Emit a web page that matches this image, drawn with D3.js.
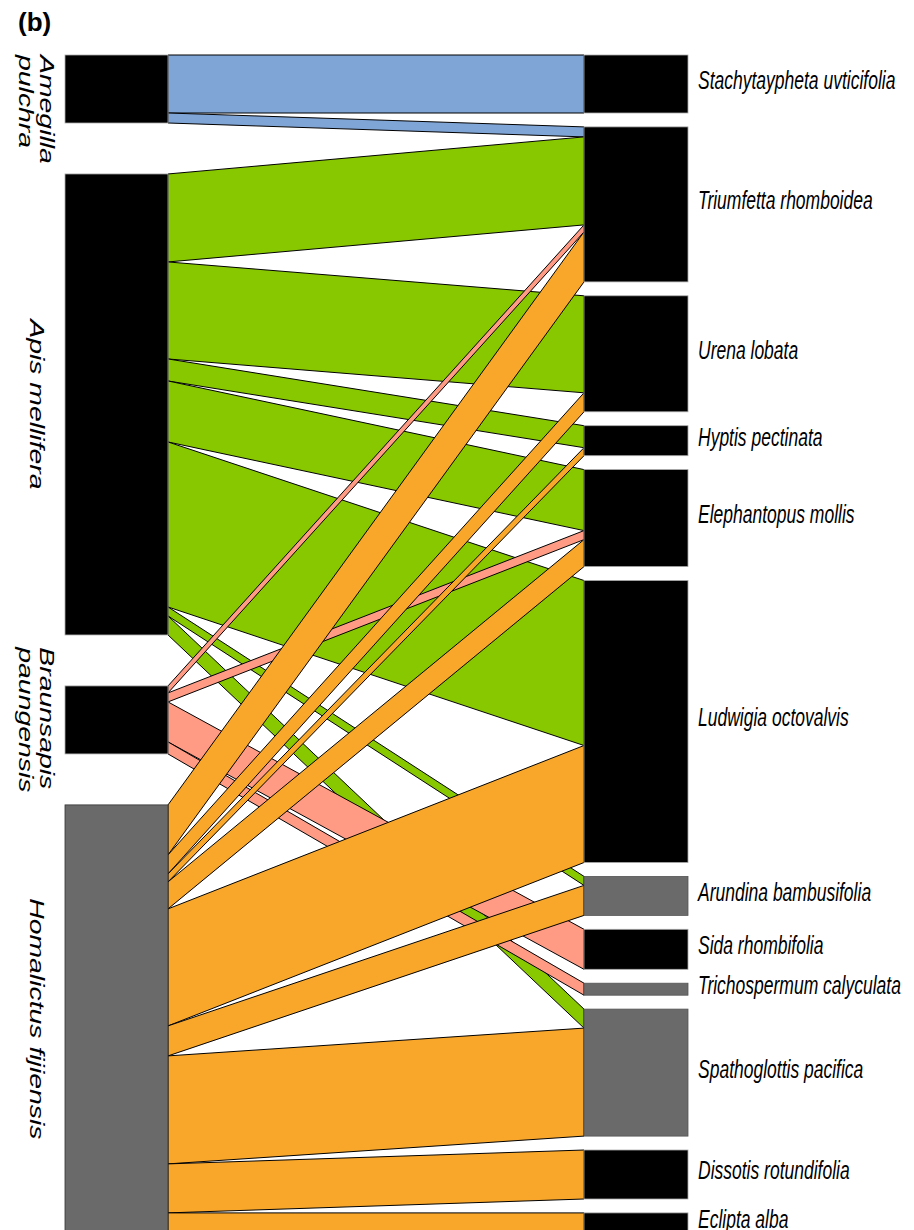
<!DOCTYPE html>
<html>
<head>
<meta charset="utf-8">
<script src="https://cdn.jsdelivr.net/npm/d3@7"></script>
<style>
  html, body { margin: 0; padding: 0; background: #fff; }
  svg { display: block; }
</style>
</head>
<body>
<svg id="web" width="914" height="1230"></svg>
<script>
// Bee species (upper level, left column)
const pollinators = ["Amegilla pulchra", "Apis mellifera", "Braunsapis paungensis", "Homalictus fijiensis"];
const pollinatorLabelLines = [["Amegilla", "pulchra"], ["Apis mellifera"], ["Braunsapis", "paungensis"], ["Homalictus fijiensis"]];

// Plant species (lower level, right column)
const plants = [
  "Stachytaypheta uvticifolia", "Triumfetta rhomboidea", "Urena lobata", "Hyptis pectinata",
  "Elephantopus mollis", "Ludwigia octovalvis", "Arundina bambusifolia", "Sida rhombifolia",
  "Trichospermum calyculata", "Spathoglottis pacifica", "Dissotis rotundifolia", "Eclipta alba"
];

// Interaction counts of each bee with each plant (same order as `plants`)
const visitsAmegilla   = [58, 10,  0,  0,  0,   0,  0,  0,  0,   0,  0,  0];
const visitsApis       = [ 0, 88, 97, 22, 61, 165,  9,  0,  0,  19,  0,  0];
const visitsBraunsapis = [ 0,  7,  0,  0,  9,   0,  0, 40, 12,   0,  0,  0];
const visitsHomalictus = [ 0, 50, 19,  8, 27, 117, 30,  0,  0, 108, 49, 20];

// Styling
const linkColors = ["#7fa5d6", "#88c800", "#ff9b85", "#f9a72b"];
const pollinatorBoxColors = ["#000000", "#000000", "#000000", "#6a6a6a"];
const grayPlants = new Set(["Arundina bambusifolia", "Trichospermum calyculata", "Spathoglottis pacifica"]);

const matrix = [visitsAmegilla, visitsApis, visitsBraunsapis, visitsHomalictus];

const svg = d3.select("#web");

const plotTop = 55;
const gapPlants = 13.9;
const gapBees = gapPlants * (plants.length - 1) / (pollinators.length - 1);
const leftX0 = 65, leftX1 = 168, rightX0 = 584, rightX1 = 688;
const vStretch = 1.42;

const beeTotals = matrix.map(r => d3.sum(r));
const plantTotals = plants.map((_, j) => d3.sum(matrix, r => r[j]));
const grand = d3.sum(beeTotals);

// Units of interactions -> pixels
const unit = d3.scaleLinear().domain([0, grand]).range([0, grand * 1.0]);

// Node positions
const beeY = [];
{
  let acc = 0;
  beeTotals.forEach((t, i) => {
    const y0 = plotTop + unit(acc) + i * gapBees;
    beeY.push({ y0, y1: y0 + unit(t) });
    acc += t;
  });
}
const plantY = [];
{
  let acc = 0;
  plantTotals.forEach((t, j) => {
    const y0 = plotTop + unit(acc) + j * gapPlants;
    plantY.push({ y0, y1: y0 + unit(t) });
    acc += t;
  });
}

// Link geometry: within a bee stacked by plant order, within a plant stacked by bee order
const links = [];
const beeCursor = beeY.map(d => d.y0);
const plantCursor = plantY.map(d => d.y0);
matrix.forEach((row, i) => {
  row.forEach((v, j) => {
    if (!v) return;
    links.push({ i, j, v, l0: beeCursor[i], l1: beeCursor[i] + unit(v) });
    beeCursor[i] += unit(v);
  });
});
plants.forEach((_, j) => {
  links.filter(l => l.j === j).sort((a, b) => a.i - b.i).forEach(l => {
    l.r0 = plantCursor[j];
    l.r1 = plantCursor[j] + unit(l.v);
    plantCursor[j] += unit(l.v);
  });
});

// Draw links, one colour per bee, later bees on top
svg.append("g").selectAll("path")
  .data(links)
  .join("path")
  .attr("d", l => {
    const p = d3.path();
    p.moveTo(leftX1, l.l0);
    p.lineTo(rightX0, l.r0);
    p.lineTo(rightX0, l.r1);
    p.lineTo(leftX1, l.l1);
    p.closePath();
    return p.toString();
  })
  .attr("fill", l => linkColors[l.i])
  .attr("stroke", "#000")
  .attr("stroke-width", 1)
  .attr("stroke-linejoin", "miter");

// Bee boxes
svg.append("g").selectAll("rect")
  .data(beeY)
  .join("rect")
  .attr("x", leftX0)
  .attr("y", d => d.y0)
  .attr("width", leftX1 - leftX0)
  .attr("height", d => d.y1 - d.y0)
  .attr("fill", (d, i) => pollinatorBoxColors[i])
  .attr("stroke", (d, i) => pollinatorBoxColors[i] === "#000000" ? "#aaa" : "#333")
  .attr("stroke-width", 0.8);

// Plant boxes
svg.append("g").selectAll("rect")
  .data(plantY)
  .join("rect")
  .attr("x", rightX0)
  .attr("y", d => d.y0)
  .attr("width", rightX1 - rightX0)
  .attr("height", d => d.y1 - d.y0)
  .attr("fill", (d, j) => grayPlants.has(plants[j]) ? "#6a6a6a" : "#000000")
  .attr("stroke", (d, j) => grayPlants.has(plants[j]) ? "#555" : "#aaa")
  .attr("stroke-width", 0.8);

// Plant labels
svg.append("g").selectAll("text")
  .data(plants)
  .join("text")
  .attr("transform", (d, j) => `translate(698,${(plantY[j].y0 + plantY[j].y1) / 2 - 4}) scale(1,${vStretch})`)
  .attr("dy", "0.36em")
  .attr("font-family", "Liberation Sans, Arial, sans-serif")
  .attr("font-style", "italic")
  .attr("font-size", 17.5)
  .attr("fill", "#000")
  .text(d => d);

// Bee labels, rotated to read downward
const lineGap = 21;
pollinatorLabelLines.forEach((lines, i) => {
  const n = lines.length;
  const xBase = 29.5 + (n - 1) * lineGap / 2;
  const g = svg.append("g");
  const t = g.append("text")
    .attr("font-family", "Liberation Sans, Arial, sans-serif")
    .attr("font-style", "italic")
    .attr("font-size", 20)
    .attr("fill", "#000");
  lines.forEach((s, k) => {
    t.append("tspan").attr("x", 0).attr("y", k * lineGap).text(s);
  });
  const len = d3.max(t.selectAll("tspan").nodes(), nd => nd.getComputedTextLength()) * vStretch;
  const center = (beeY[i].y0 + beeY[i].y1) / 2;
  const yStart = Math.max(plotTop, center - len / 2);
  g.attr("transform", `translate(${xBase},${yStart}) scale(1,${vStretch}) rotate(90)`);
});

// Panel letter
svg.append("text")
  .attr("x", 18)
  .attr("y", 31)
  .attr("font-family", "Liberation Sans, Arial, sans-serif")
  .attr("font-weight", "bold")
  .attr("font-size", 26)
  .text("(b)");
</script>
</body>
</html>
